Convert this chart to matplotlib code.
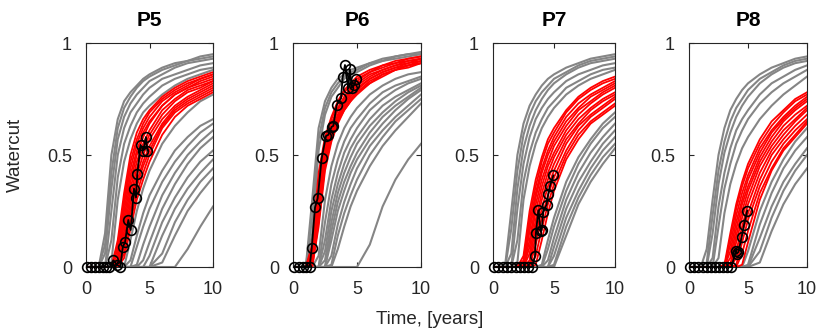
import numpy as np
import matplotlib
matplotlib.use('Agg')
from matplotlib import pyplot as plt

plt.rcParams['font.family'] = ['Liberation Sans', 'DejaVu Sans']

# common time grid (years) on which the ensemble curves were read
t_grid = [0, 0.5, 1, 1.5, 2, 2.5, 3, 3.5, 4, 4.5, 5, 6, 7, 8, 9, 10]

# ---- P5 ----
p5_gray = [
    [0, 0, 0, 0.15, 0.50, 0.66, 0.74, 0.78, 0.81, 0.84, 0.86, 0.89, 0.91, 0.92, 0.94, 0.95],
    [0, 0, 0, 0.10, 0.42, 0.62, 0.71, 0.76, 0.80, 0.83, 0.85, 0.88, 0.90, 0.92, 0.93, 0.94],
    [0, 0, 0, 0.06, 0.35, 0.57, 0.67, 0.73, 0.77, 0.80, 0.83, 0.86, 0.89, 0.91, 0.92, 0.93],
    [0, 0, 0, 0, 0.25, 0.50, 0.62, 0.69, 0.73, 0.77, 0.80, 0.84, 0.86, 0.88, 0.90, 0.91],
    [0, 0, 0, 0, 0.12, 0.40, 0.55, 0.63, 0.69, 0.73, 0.76, 0.81, 0.84, 0.86, 0.88, 0.89],
    [0, 0, 0, 0, 0.02, 0.30, 0.47, 0.57, 0.64, 0.69, 0.72, 0.77, 0.81, 0.84, 0.86, 0.88],
    [0, 0, 0, 0, 0, 0, 0, 0.12, 0.25, 0.35, 0.43, 0.55, 0.63, 0.69, 0.74, 0.77],
    [0, 0, 0, 0, 0, 0, 0, 0.03, 0.14, 0.24, 0.32, 0.43, 0.52, 0.58, 0.63, 0.66],
    [0, 0, 0, 0, 0, 0, 0, 0, 0.09, 0.18, 0.26, 0.38, 0.47, 0.54, 0.60, 0.64],
    [0, 0, 0, 0, 0, 0, 0, 0, 0.01, 0.10, 0.18, 0.32, 0.42, 0.50, 0.56, 0.61],
    [0, 0, 0, 0, 0, 0, 0, 0, 0, 0.03, 0.11, 0.26, 0.37, 0.46, 0.53, 0.58],
    [0, 0, 0, 0, 0, 0, 0, 0, 0, 0, 0.05, 0.20, 0.31, 0.40, 0.47, 0.52],
    [0, 0, 0, 0, 0, 0, 0, 0, 0, 0, 0, 0.14, 0.26, 0.35, 0.42, 0.48],
    [0, 0, 0, 0, 0, 0, 0, 0, 0, 0, 0, 0.06, 0.20, 0.30, 0.38, 0.44],
    [0, 0, 0, 0, 0, 0, 0, 0, 0, 0, 0, 0.02, 0.14, 0.25, 0.33, 0.40],
    [0, 0, 0, 0, 0, 0, 0, 0, 0, 0, 0, 0, 0, 0.08, 0.18, 0.27],
]
p5_red = [
    [0, 0, 0, 0, 0, 0.12, 0.33, 0.50, 0.60, 0.66, 0.70, 0.76, 0.80, 0.83, 0.85, 0.87],
    [0, 0, 0, 0, 0, 0.10, 0.30, 0.47, 0.57, 0.64, 0.69, 0.75, 0.79, 0.82, 0.84, 0.86],
    [0, 0, 0, 0, 0, 0.08, 0.28, 0.44, 0.55, 0.62, 0.67, 0.74, 0.78, 0.81, 0.84, 0.86],
    [0, 0, 0, 0, 0, 0.06, 0.25, 0.41, 0.52, 0.60, 0.65, 0.72, 0.77, 0.80, 0.83, 0.85],
    [0, 0, 0, 0, 0, 0.04, 0.22, 0.38, 0.50, 0.58, 0.64, 0.72, 0.77, 0.80, 0.82, 0.84],
    [0, 0, 0, 0, 0, 0.03, 0.19, 0.35, 0.47, 0.55, 0.61, 0.70, 0.75, 0.79, 0.81, 0.83],
    [0, 0, 0, 0, 0, 0.02, 0.16, 0.32, 0.44, 0.53, 0.59, 0.68, 0.74, 0.78, 0.80, 0.83],
    [0, 0, 0, 0, 0, 0.01, 0.13, 0.29, 0.41, 0.50, 0.57, 0.66, 0.72, 0.76, 0.79, 0.82],
    [0, 0, 0, 0, 0, 0, 0.11, 0.26, 0.38, 0.47, 0.54, 0.64, 0.71, 0.75, 0.78, 0.81],
    [0, 0, 0, 0, 0, 0, 0.09, 0.24, 0.36, 0.45, 0.52, 0.63, 0.70, 0.74, 0.77, 0.80],
    [0, 0, 0, 0, 0, 0, 0.06, 0.20, 0.33, 0.42, 0.50, 0.62, 0.69, 0.73, 0.76, 0.79],
    [0, 0, 0, 0, 0, 0, 0.04, 0.17, 0.30, 0.39, 0.47, 0.59, 0.67, 0.72, 0.75, 0.78],
]
p5_obs_t = [0.1, 0.4, 0.7, 1.0, 1.3, 1.6, 1.85, 2.15, 2.45, 2.7, 2.9, 3.07, 3.33, 3.52,
            3.78, 3.94, 4.04, 4.3, 4.51, 4.72, 4.83]
p5_obs_v = [0, 0, 0, 0, 0, 0, 0, 0.03, 0.01, 0, 0.09, 0.11, 0.21, 0.165,
            0.35, 0.31, 0.415, 0.545, 0.52, 0.58, 0.52]

# ---- P6 ----
p6_gray = [
    [0, 0, 0, 0.30, 0.62, 0.74, 0.80, 0.84, 0.86, 0.88, 0.89, 0.91, 0.93, 0.94, 0.95, 0.96],
    [0, 0, 0, 0.22, 0.57, 0.71, 0.78, 0.82, 0.85, 0.87, 0.88, 0.91, 0.92, 0.94, 0.95, 0.95],
    [0, 0, 0, 0.15, 0.52, 0.68, 0.76, 0.80, 0.84, 0.86, 0.87, 0.90, 0.92, 0.93, 0.94, 0.95],
    [0, 0, 0, 0, 0.05, 0.30, 0.45, 0.55, 0.62, 0.67, 0.71, 0.77, 0.81, 0.84, 0.86, 0.87],
    [0, 0, 0, 0, 0, 0.20, 0.37, 0.48, 0.56, 0.62, 0.66, 0.73, 0.78, 0.81, 0.83, 0.85],
    [0, 0, 0, 0, 0, 0.12, 0.30, 0.42, 0.51, 0.57, 0.62, 0.70, 0.75, 0.79, 0.82, 0.84],
    [0, 0, 0, 0, 0, 0.07, 0.25, 0.37, 0.46, 0.53, 0.58, 0.66, 0.72, 0.76, 0.79, 0.82],
    [0, 0, 0, 0, 0, 0.03, 0.20, 0.33, 0.42, 0.49, 0.55, 0.63, 0.69, 0.74, 0.78, 0.81],
    [0, 0, 0, 0, 0, 0, 0.16, 0.29, 0.38, 0.45, 0.51, 0.60, 0.67, 0.72, 0.76, 0.80],
    [0, 0, 0, 0, 0, 0, 0.12, 0.25, 0.34, 0.42, 0.48, 0.57, 0.64, 0.70, 0.75, 0.79],
    [0, 0, 0, 0, 0, 0, 0.05, 0.19, 0.29, 0.37, 0.44, 0.54, 0.61, 0.67, 0.72, 0.77],
    [0, 0, 0, 0, 0, 0, 0.01, 0.14, 0.24, 0.32, 0.39, 0.50, 0.58, 0.65, 0.70, 0.75],
    [0, 0, 0, 0, 0, 0, 0, 0.08, 0.18, 0.27, 0.34, 0.45, 0.54, 0.61, 0.67, 0.73],
    [0, 0, 0, 0, 0, 0, 0, 0, 0, 0, 0, 0.10, 0.27, 0.39, 0.48, 0.55],
]
p6_red = [
    [0, 0, 0, 0.10, 0.42, 0.58, 0.67, 0.74, 0.79, 0.82, 0.85, 0.88, 0.90, 0.92, 0.93, 0.94],
    [0, 0, 0, 0.08, 0.38, 0.56, 0.66, 0.73, 0.78, 0.81, 0.84, 0.87, 0.90, 0.91, 0.93, 0.94],
    [0, 0, 0, 0.06, 0.35, 0.54, 0.64, 0.71, 0.76, 0.80, 0.83, 0.87, 0.89, 0.91, 0.92, 0.93],
    [0, 0, 0, 0.05, 0.32, 0.52, 0.62, 0.70, 0.75, 0.79, 0.82, 0.86, 0.88, 0.90, 0.92, 0.93],
    [0, 0, 0, 0.04, 0.29, 0.50, 0.61, 0.68, 0.74, 0.78, 0.81, 0.85, 0.88, 0.90, 0.91, 0.93],
    [0, 0, 0, 0.03, 0.27, 0.49, 0.60, 0.67, 0.73, 0.77, 0.80, 0.84, 0.87, 0.89, 0.91, 0.92],
    [0, 0, 0, 0.02, 0.25, 0.48, 0.59, 0.66, 0.72, 0.76, 0.79, 0.84, 0.87, 0.89, 0.90, 0.92],
    [0, 0, 0, 0.01, 0.22, 0.46, 0.58, 0.65, 0.71, 0.75, 0.78, 0.83, 0.86, 0.88, 0.90, 0.91],
    [0, 0, 0, 0, 0.20, 0.45, 0.57, 0.65, 0.70, 0.74, 0.78, 0.82, 0.86, 0.88, 0.90, 0.91],
    [0, 0, 0, 0, 0.18, 0.43, 0.56, 0.64, 0.70, 0.74, 0.77, 0.82, 0.85, 0.88, 0.89, 0.91],
]
p6_obs_t = [0.1, 0.45, 0.75, 1.05, 1.3, 1.46, 1.72, 1.93, 2.24, 2.58, 2.76, 3.02, 3.15,
            3.41, 3.75, 3.88, 4.06, 4.32, 4.45, 4.58, 4.79, 4.92]
p6_obs_v = [0, 0, 0, 0, 0, 0.083, 0.266, 0.307, 0.485, 0.585, 0.59, 0.626, 0.63,
            0.723, 0.753, 0.847, 0.902, 0.798, 0.882, 0.80, 0.8125, 0.838]

# ---- P7 ----
p7_gray = [
    [0, 0, 0.01, 0.25, 0.50, 0.64, 0.72, 0.77, 0.81, 0.84, 0.86, 0.89, 0.91, 0.93, 0.94, 0.95],
    [0, 0, 0, 0.17, 0.43, 0.59, 0.68, 0.74, 0.78, 0.81, 0.84, 0.87, 0.90, 0.92, 0.93, 0.94],
    [0, 0, 0, 0.06, 0.35, 0.53, 0.63, 0.70, 0.75, 0.79, 0.82, 0.86, 0.89, 0.91, 0.92, 0.93],
    [0, 0, 0, 0, 0.26, 0.46, 0.58, 0.66, 0.71, 0.75, 0.78, 0.83, 0.86, 0.88, 0.90, 0.91],
    [0, 0, 0, 0, 0.12, 0.38, 0.51, 0.60, 0.66, 0.71, 0.74, 0.80, 0.83, 0.86, 0.88, 0.89],
    [0, 0, 0, 0, 0.02, 0.30, 0.45, 0.55, 0.62, 0.67, 0.71, 0.77, 0.81, 0.84, 0.86, 0.88],
    [0, 0, 0, 0, 0, 0, 0, 0, 0.01, 0.12, 0.22, 0.38, 0.49, 0.57, 0.64, 0.69],
    [0, 0, 0, 0, 0, 0, 0, 0, 0, 0.08, 0.18, 0.34, 0.46, 0.55, 0.62, 0.67],
    [0, 0, 0, 0, 0, 0, 0, 0, 0, 0.03, 0.13, 0.30, 0.42, 0.51, 0.58, 0.64],
    [0, 0, 0, 0, 0, 0, 0, 0, 0, 0, 0.09, 0.26, 0.38, 0.47, 0.55, 0.61],
    [0, 0, 0, 0, 0, 0, 0, 0, 0, 0, 0.05, 0.22, 0.34, 0.44, 0.52, 0.58],
    [0, 0, 0, 0, 0, 0, 0, 0, 0, 0, 0.01, 0.18, 0.31, 0.41, 0.49, 0.55],
    [0, 0, 0, 0, 0, 0, 0, 0, 0, 0, 0, 0.14, 0.28, 0.38, 0.46, 0.53],
]
p7_red = [
    [0, 0, 0, 0, 0, 0.05, 0.25, 0.39, 0.49, 0.57, 0.62, 0.70, 0.76, 0.80, 0.83, 0.85],
    [0, 0, 0, 0, 0, 0.03, 0.22, 0.36, 0.47, 0.55, 0.60, 0.69, 0.75, 0.79, 0.82, 0.84],
    [0, 0, 0, 0, 0, 0.01, 0.19, 0.33, 0.44, 0.52, 0.58, 0.67, 0.73, 0.77, 0.80, 0.83],
    [0, 0, 0, 0, 0, 0, 0.16, 0.31, 0.42, 0.50, 0.56, 0.65, 0.71, 0.76, 0.79, 0.82],
    [0, 0, 0, 0, 0, 0, 0.12, 0.28, 0.39, 0.47, 0.54, 0.63, 0.70, 0.74, 0.78, 0.81],
    [0, 0, 0, 0, 0, 0, 0.09, 0.25, 0.36, 0.45, 0.51, 0.61, 0.68, 0.73, 0.77, 0.80],
    [0, 0, 0, 0, 0, 0, 0.06, 0.21, 0.33, 0.42, 0.49, 0.59, 0.66, 0.71, 0.75, 0.78],
    [0, 0, 0, 0, 0, 0, 0.03, 0.18, 0.30, 0.39, 0.46, 0.57, 0.64, 0.70, 0.74, 0.77],
    [0, 0, 0, 0, 0, 0, 0.01, 0.14, 0.26, 0.36, 0.43, 0.55, 0.63, 0.68, 0.72, 0.76],
    [0, 0, 0, 0, 0, 0, 0, 0.10, 0.22, 0.32, 0.40, 0.52, 0.61, 0.67, 0.71, 0.75],
    [0, 0, 0, 0, 0, 0, 0, 0.05, 0.17, 0.28, 0.37, 0.50, 0.59, 0.65, 0.69, 0.73],
    [0, 0, 0, 0, 0, 0, 0, 0.01, 0.12, 0.24, 0.34, 0.48, 0.57, 0.64, 0.68, 0.72],
]
p7_obs_t = [0.1, 0.45, 0.8, 1.15, 1.5, 1.85, 2.2, 2.55, 2.9, 3.2, 3.44, 3.52, 3.72, 3.91,
            3.99, 4.13, 4.4, 4.54, 4.67, 4.95]
p7_obs_v = [0, 0, 0, 0, 0, 0, 0, 0, 0, 0, 0.047, 0.154, 0.253, 0.159,
            0.165, 0.247, 0.279, 0.328, 0.363, 0.409]

# ---- P8 ----
p8_gray = [
    [0, 0, 0, 0.08, 0.30, 0.50, 0.62, 0.70, 0.75, 0.79, 0.82, 0.86, 0.89, 0.91, 0.93, 0.94],
    [0, 0, 0, 0.02, 0.23, 0.43, 0.56, 0.65, 0.71, 0.75, 0.79, 0.84, 0.87, 0.90, 0.92, 0.93],
    [0, 0, 0, 0, 0.15, 0.37, 0.51, 0.60, 0.67, 0.72, 0.76, 0.82, 0.86, 0.89, 0.91, 0.92],
    [0, 0, 0, 0, 0.04, 0.27, 0.42, 0.53, 0.61, 0.66, 0.70, 0.77, 0.82, 0.85, 0.88, 0.90],
    [0, 0, 0, 0, 0, 0.18, 0.35, 0.46, 0.55, 0.61, 0.66, 0.73, 0.78, 0.82, 0.85, 0.88],
    [0, 0, 0, 0, 0, 0.04, 0.24, 0.37, 0.46, 0.53, 0.58, 0.66, 0.72, 0.77, 0.81, 0.85],
    [0, 0, 0, 0, 0, 0, 0, 0, 0, 0, 0.07, 0.25, 0.38, 0.48, 0.56, 0.62],
    [0, 0, 0, 0, 0, 0, 0, 0, 0, 0, 0.01, 0.19, 0.33, 0.44, 0.52, 0.58],
    [0, 0, 0, 0, 0, 0, 0, 0, 0, 0, 0, 0.13, 0.27, 0.38, 0.46, 0.53],
    [0, 0, 0, 0, 0, 0, 0, 0, 0, 0, 0, 0.07, 0.22, 0.34, 0.43, 0.50],
    [0, 0, 0, 0, 0, 0, 0, 0, 0, 0, 0, 0.02, 0.16, 0.28, 0.37, 0.44],
]
p8_red = [
    [0, 0, 0, 0, 0, 0, 0.01, 0.15, 0.28, 0.38, 0.46, 0.57, 0.65, 0.70, 0.75, 0.78],
    [0, 0, 0, 0, 0, 0, 0, 0.13, 0.26, 0.36, 0.44, 0.55, 0.63, 0.69, 0.74, 0.77],
    [0, 0, 0, 0, 0, 0, 0, 0.10, 0.23, 0.33, 0.41, 0.53, 0.61, 0.67, 0.72, 0.76],
    [0, 0, 0, 0, 0, 0, 0, 0.07, 0.20, 0.30, 0.39, 0.51, 0.60, 0.66, 0.71, 0.75],
    [0, 0, 0, 0, 0, 0, 0, 0.04, 0.17, 0.28, 0.36, 0.49, 0.58, 0.65, 0.70, 0.74],
    [0, 0, 0, 0, 0, 0, 0, 0.01, 0.14, 0.25, 0.34, 0.47, 0.56, 0.63, 0.68, 0.72],
    [0, 0, 0, 0, 0, 0, 0, 0, 0.11, 0.22, 0.31, 0.45, 0.54, 0.61, 0.66, 0.71],
    [0, 0, 0, 0, 0, 0, 0, 0, 0.07, 0.18, 0.28, 0.42, 0.52, 0.59, 0.65, 0.70],
    [0, 0, 0, 0, 0, 0, 0, 0, 0.04, 0.15, 0.24, 0.39, 0.50, 0.57, 0.63, 0.68],
    [0, 0, 0, 0, 0, 0, 0, 0, 0.01, 0.11, 0.21, 0.36, 0.47, 0.55, 0.61, 0.66],
    [0, 0, 0, 0, 0, 0, 0, 0, 0, 0.06, 0.16, 0.33, 0.44, 0.53, 0.59, 0.65],
    [0, 0, 0, 0, 0, 0, 0, 0, 0, 0.01, 0.11, 0.30, 0.43, 0.52, 0.58, 0.64],
]
p8_obs_t = [0.1, 0.45, 0.8, 1.15, 1.5, 1.85, 2.2, 2.55, 2.9, 3.25, 3.6, 3.98, 4.03, 4.18,
            4.46, 4.66, 4.94]
p8_obs_v = [0, 0, 0, 0, 0, 0, 0, 0, 0, 0, 0, 0.073, 0.059, 0.066,
            0.132, 0.188, 0.252]

wells = ['P5', 'P6', 'P7', 'P8']
gray_sets = [p5_gray, p6_gray, p7_gray, p8_gray]
red_sets = [p5_red, p6_red, p7_red, p8_red]
obs_t = [p5_obs_t, p6_obs_t, p7_obs_t, p8_obs_t]
obs_v = [p5_obs_v, p6_obs_v, p7_obs_v, p8_obs_v]

# axes boxes in pixels (left, right), figure is 830x333
boxes = [(86, 213), (293, 421), (493, 615), (689, 807)]
W, H = 830, 333
top_px, bot_px = 43, 267

fig = plt.figure(figsize=(W / 100, H / 100), dpi=100)
axcol = '#262626'

for i, well in enumerate(wells):
    l, r = boxes[i]
    ax = fig.add_axes([l / W, (H - bot_px) / H, (r - l) / W, (bot_px - top_px) / H])
    for row in gray_sets[i]:
        ax.plot(t_grid, row, color='#858585', lw=1.5, solid_joinstyle='round')
    for row in red_sets[i]:
        ax.plot(t_grid, row, color='#ff0000', lw=1.3, solid_joinstyle='round')
    # observed data, drawn unclipped so the zero points show as full circles
    ax.plot(obs_t[i], obs_v[i], 'o-', color='black', mfc='none', mec='black',
            ms=7, mew=1.2, lw=1.3, clip_on=False, zorder=5)
    ax.set_xlim(0, 10)
    ax.set_ylim(0, 1)
    ax.set_xticks([0, 5, 10])
    ax.set_yticks([0, 0.5, 1])
    ax.set_yticklabels(['0', '0.5', '1'])
    ax.tick_params(direction='in', top=True, right=True, length=3.5, width=0.8,
                   labelsize=13, colors=axcol, labelcolor='#262626')
    ax.tick_params(axis='x', pad=10)
    ax.tick_params(axis='y', pad=10)
    for s in ax.spines.values():
        s.set_color(axcol)
        s.set_linewidth(0.8)
    ax.set_title(well, fontsize=15, fontweight='bold', pad=12)

fig.text(15 / W, 1 - 155 / H, 'Watercut', rotation=90, ha='center', va='center',
         fontsize=13.5, color='#262626')
fig.text(430 / W, 1 - 320 / H, 'Time, [years]', ha='center', va='center',
         fontsize=13.5, color='#262626')

fig.savefig('out.png', dpi=100)
